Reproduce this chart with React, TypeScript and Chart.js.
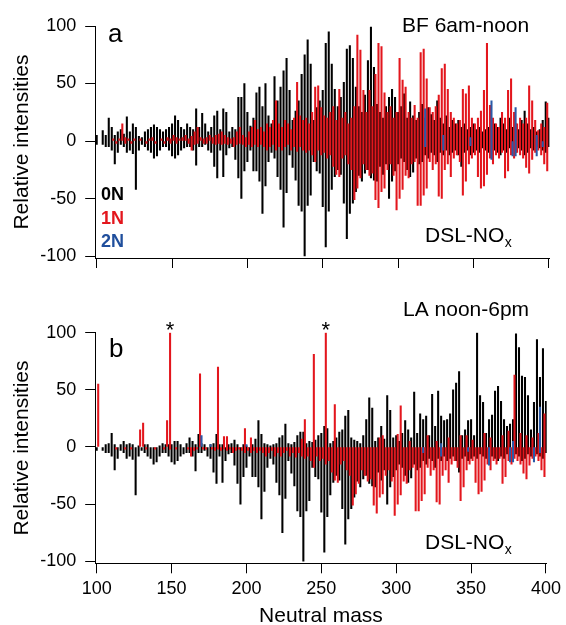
import React, { useEffect, useRef } from "react";
import { Chart, registerables } from "chart.js";

Chart.register(...registerables);

// ---------- DATA ----------
// Even nominal masses (0N species): 100, 102, ... 400
const evenStart = 100;
// Odd nominal masses (1N species): 101, 103, ... 399
const oddStart = 101;

// Panel a positive (BF 6am-noon), 0N
const bf0N = [
  5, 0, 9, 5, 20, 12, 5, 8, 10, 6,
  21, 8, 15, 12, 4, 3, 8, 10, 12, 14,
  12, 10, 8, 10, 12, 15, 22, 18, 12, 10,
  15, 12, 10, 28, 12, 24, 15, 8, 12, 22,
  26, 10, 28, 25, 8, 12, 10, 38, 38, 50,
  25, 13, 20, 42, 47, 30, 50, 22, 15, 56,
  35, 47, 61, 72, 44, 18, 26, 35, 58, 75,
  88, 67, 18, 29, 35, 44, 85, 95, 67, 45,
  30, 38, 51, 80, 83, 72, 47, 30, 25, 40,
  70, 99, 64, 32, 25, 20, 30, 38, 45, 38,
  25, 30, 41, 20, 34, 22, 18, 25, 32, 20,
  29, 23, 18, 35, 20, 15, 22, 12, 18, 15,
  18, 12, 15, 10, 12, 15, 10, 12, 8, 10,
  12, 8, 15, 12, 20, 15, 10, 20, 12, 15,
  10, 18, 26, 15, 10, 12, 8, 10, 18, 34,
  20,
];

// Panel b positive (LA noon-6pm), 0N
const la0N = [
  0, 0, 0, 2, 3, 12, 2, 0, 2, 5,
  2, 3, 2, 0, 1, 0, 2, 2, 0, 0,
  0, 1, 3, 2, 2, 2, 5, 5, 2, 0,
  3, 8, 5, 2, 11, 3, 2, 0, 2, 3,
  11, 2, 2, 0, 2, 3, 6, 2, 0, 2,
  1, 0, 2, 7, 23, 11, 3, 2, 1, 2,
  3, 8, 10, 20, 3, 2, 4, 10, 13, 13,
  3, 5, 4, 6, 10, 12, 18, 16, 3, 5,
  8, 13, 15, 27, 32, 8, 6, 5, 3, 10,
  24, 43, 34, 5, 8, 18, 7, 45, 32, 8,
  10, 5, 12, 23, 15, 8, 48, 12, 29, 24,
  27, 10, 46, 18, 49, 27, 23, 24, 29, 50,
  56, 66, 10, 15, 23, 24, 10, 100, 45, 39,
  12, 24, 28, 49, 53, 40, 24, 18, 20, 24,
  99, 87, 62, 61, 45, 15, 39, 94, 61, 86,
  40,
];

// Negative side (DSL-NOx reference), 0N, shared by both panels
const dsl0N = [
  3, 0, 3, 5, 5, 8, 20, 10, 3, 5,
  10, 8, 11, 42, 8, 3, 5, 8, 10, 15,
  13, 8, 5, 5, 8, 13, 15, 12, 8, 6,
  5, 5, 8, 21, 5, 5, 3, 8, 10, 22,
  32, 8, 31, 12, 6, 5, 16, 32, 50, 26,
  18, 8, 26, 26, 35, 63, 39, 18, 10, 15,
  31, 42, 75, 45, 12, 23, 34, 56, 61, 100,
  56, 47, 18, 26, 28, 57, 92, 61, 42, 31,
  25, 29, 54, 85, 63, 54, 44, 30, 35, 28,
  25, 32, 34, 35, 22, 29, 20, 50, 35, 26,
  20, 15, 18, 25, 31, 27, 15, 20, 18, 12,
  15, 10, 12, 18, 10, 12, 8, 12, 10, 8,
  12, 22, 10, 8, 12, 10, 8, 10, 6, 8,
  10, 6, 8, 10, 12, 8, 10, 6, 8, 10,
  6, 8, 12, 10, 6, 8, 5, 6, 8, 10,
  5,
];

// Panel a positive, 1N (odd masses)
const bf1N = [
  0, 0, 0, 0, 0, 2, 0, 2, 15, 3,
  2, 0, 2, 0, 2, 0, 0, 2, 3, 0,
  0, 2, 0, 3, 2, 5, 3, 2, 3, 5,
  2, 4, 8, 12, 3, 2, 3, 5, 3, 5,
  6, 8, 5, 3, 2, 3, 8, 12, 5, 3,
  8, 12, 18, 10, 12, 8, 15, 12, 18, 35,
  15, 12, 18, 15, 10, 20, 51, 22, 18, 20,
  15, 25, 47, 48, 29, 22, 20, 25, 30, 18,
  45, 20, 25, 15, 20, 30, 92, 79, 44, 25,
  44, 30, 58, 85, 82, 42, 25, 30, 20, 25,
  72, 53, 47, 25, 20, 31, 20, 77, 80, 54,
  29, 25, 30, 40, 63, 67, 45, 25, 20, 15,
  18, 45, 41, 48, 20, 15, 20, 26, 44, 85,
  31, 20, 15, 12, 25, 20, 44, 54, 25, 15,
  20, 15, 20, 48, 35, 18, 9, 15, 12, 33,
];

// Panel b positive, 1N (odd masses)
const la1N = [
  55, 0, 0, 0, 0, 0, 0, 0, 0, 0,
  0, 0, 0, 0, 15, 21, 0, 0, 0, 0,
  0, 0, 0, 23, 100, 0, 0, 0, 0, 0,
  0, 0, 0, 0, 64, 0, 0, 0, 0, 0,
  70, 0, 9, 9, 0, 0, 0, 0, 0, 16,
  0, 8, 0, 0, 0, 0, 0, 0, 0, 0,
  0, 0, 0, 0, 0, 0, 0, 0, 7, 24,
  0, 0, 81, 0, 0, 0, 100, 0, 0, 37,
  0, 0, 0, 0, 0, 0, 0, 0, 0, 0,
  0, 0, 0, 0, 8, 10, 0, 0, 0, 0,
  11, 36, 0, 0, 5, 0, 0, 0, 0, 0,
  10, 0, 0, 5, 0, 0, 0, 8, 0, 0,
  0, 10, 0, 10, 0, 6, 0, 0, 0, 12,
  0, 8, 0, 0, 0, 10, 0, 14, 0, 63,
  0, 12, 0, 10, 0, 8, 0, 12, 0, 29,
];

// Negative side (DSL-NOx), 1N, shared
const dsl1N = [
  0, 0, 0, 0, 0, 0, 2, 0, 0, 2,
  0, 2, 0, 0, 0, 0, 2, 0, 0, 2,
  0, 0, 2, 0, 2, 0, 2, 0, 0, 0,
  2, 8, 3, 2, 0, 2, 2, 0, 2, 3,
  2, 3, 2, 3, 2, 5, 3, 2, 3, 5,
  3, 5, 3, 5, 3, 5, 8, 5, 3, 8,
  5, 8, 5, 3, 8, 5, 9, 5, 8, 10,
  8, 12, 18, 8, 12, 10, 15, 12, 22, 29,
  31, 15, 12, 20, 25, 51, 41, 32, 20, 25,
  30, 28, 51, 58, 44, 41, 25, 20, 30, 60,
  50, 42, 30, 32, 20, 18, 56, 56, 47, 41,
  18, 25, 20, 48, 50, 25, 20, 31, 15, 12,
  18, 47, 35, 20, 15, 12, 31, 41, 39, 29,
  15, 20, 12, 15, 10, 32, 26, 12, 15, 10,
  12, 15, 23, 28, 16, 10, 8, 12, 20, 26,
];

// 2N species (sparse, even masses)
const masses2N = [170, 176, 200, 318, 330, 348, 362, 376, 378, 392, 396];
const bf2N = [0, 0, 0, 28, 5, 3, 35, 0, 29, 5, 0];
const la2N = [10, 2, 2, 0, 3, 0, 0, 0, 5, 0, 35];
const dsl2N = [0, 0, 0, 5, 8, 4, 16, 13, 13, 13, 5];

const yTicks = [-100, -50, 0, 50, 100];
const xTicks = [100, 150, 200, 250, 300, 350, 400];
const starMasses = [149, 253];

// ---------- STYLE ----------
const FONT = '"Liberation Sans", Arial, Helvetica, sans-serif';
const BLACK = "#000000";
const RED = "#e3161d";
const BLUE = "#2a5aa8";
const BLUE_TXT = "#1f4e9c";

type Pt = { x: number; y: [number, number] };

function series(start: number, pos: number[], neg: number[]): Pt[] {
  const out: Pt[] = [];
  pos.forEach((p, i) => {
    const n = neg[i] || 0;
    if (p !== 0 || n !== 0) out.push({ x: start + 2 * i, y: [-n, p] });
  });
  return out;
}

function seriesAt(masses: number[], pos: number[], neg: number[]): Pt[] {
  const out: Pt[] = [];
  masses.forEach((m, i) => {
    if (pos[i] !== 0 || neg[i] !== 0) out.push({ x: m, y: [-neg[i], pos[i]] });
  });
  return out;
}

type Txt = {
  t: string;
  x: number;
  y: number;
  size: number;
  color?: string;
  bold?: boolean;
  align?: CanvasTextAlign;
  dataX?: number;
  sub?: string;
};

function textPlugin(id: string, items: Txt[]) {
  return {
    id,
    afterDraw(chart: any) {
      const ctx: CanvasRenderingContext2D = chart.ctx;
      ctx.save();
      for (const it of items) {
        ctx.font = `${it.bold ? "bold " : ""}${it.size}px ${FONT}`;
        ctx.fillStyle = it.color || BLACK;
        ctx.textAlign = it.align || "left";
        ctx.textBaseline = "alphabetic";
        const x = it.dataX !== undefined ? chart.scales.x.getPixelForValue(it.dataX) : it.x;
        ctx.fillText(it.t, x, it.y);
        if (it.sub) {
          const w = ctx.measureText(it.t).width;
          ctx.font = `${Math.round(it.size * 0.68)}px ${FONT}`;
          ctx.fillText(it.sub, x + w + 0.5, it.y + 5);
        }
      }
      ctx.restore();
    },
  };
}

function makeConfig(opts: {
  pos0: number[];
  pos1: number[];
  pos2: number[];
  yMin: number;
  padTop: number;
  xHeight: number;
  showXLabels: boolean;
  texts: Txt[];
  id: string;
}) {
  const barBase = {
    grouped: false,
    barThickness: 1.4,
    borderWidth: 0,
  };
  return {
    type: "bar" as const,
    data: {
      datasets: [
        { ...barBase, label: "2N", data: seriesAt(masses2N, opts.pos2, dsl2N), backgroundColor: BLUE },
        { ...barBase, label: "1N", data: series(oddStart, opts.pos1, dsl1N), backgroundColor: RED },
        { ...barBase, label: "0N", data: series(evenStart, opts.pos0, dsl0N), backgroundColor: BLACK },
      ],
    },
    options: {
      responsive: false,
      animation: false,
      devicePixelRatio: 1,
      layout: { padding: { top: opts.padTop, right: 16.5, bottom: 0, left: 0 } },
      plugins: { legend: { display: false }, tooltip: { enabled: false } },
      scales: {
        x: {
          type: "linear",
          min: 99,
          max: 400.5,
          offset: false,
          afterBuildTicks: (axis: any) => {
            axis.ticks = xTicks.map((v) => ({ value: v }));
          },
          afterFit: (axis: any) => {
            axis.height = opts.xHeight;
          },
          grid: {
            display: true,
            offset: false,
            drawOnChartArea: false,
            drawTicks: true,
            tickLength: 10,
            color: BLACK,
            lineWidth: 1,
          },
          border: { display: true, color: BLACK, width: 1 },
          ticks: {
            display: opts.showXLabels,
            color: BLACK,
            font: { size: 18, family: FONT },
            padding: 5,
            maxRotation: 0,
          },
          title: {
            display: opts.showXLabels,
            text: "Neutral mass",
            color: BLACK,
            font: { size: 21, family: FONT },
            padding: { top: 0, bottom: -3.4 },
          },
        },
        y: {
          type: "linear",
          min: opts.yMin,
          max: 100,
          afterBuildTicks: (axis: any) => {
            axis.ticks = yTicks.map((v) => ({ value: v }));
          },
          afterFit: (axis: any) => {
            axis.width = 95.2;
          },
          grid: {
            display: true,
            drawOnChartArea: false,
            drawTicks: true,
            tickLength: 10,
            color: BLACK,
            lineWidth: 1,
          },
          border: { display: true, color: BLACK, width: 1 },
          ticks: {
            color: BLACK,
            font: { size: 18, family: FONT },
            padding: 9,
          },
          title: {
            display: true,
            text: "Relative intensities",
            color: BLACK,
            font: { size: 21, family: FONT },
            padding: { top: 10, bottom: 0 },
          },
        },
      },
    },
    plugins: [textPlugin(opts.id, opts.texts)],
  };
}

const textsA: Txt[] = [
  { t: "a", x: 108, y: 42, size: 26 },
  { t: "BF 6am-noon", x: 402, y: 31.7, size: 21 },
  { t: "0N", x: 101, y: 199.5, size: 18, bold: true, color: BLACK },
  { t: "1N", x: 101, y: 224, size: 18, bold: true, color: RED },
  { t: "2N", x: 101, y: 246.5, size: 18, bold: true, color: BLUE_TXT },
  { t: "DSL-NO", x: 425, y: 242.3, size: 21, sub: "x" },
];

const textsB: Txt[] = [
  { t: "b", x: 109, y: 67, size: 26 },
  { t: "LA noon-6pm", x: 403, y: 26, size: 21 },
  { t: "DSL-NO", x: 425, y: 259, size: 21, sub: "x" },
  ...starMasses.map((m) => ({ t: "*", x: 0, y: 46.5, size: 22, align: "center" as CanvasTextAlign, dataX: m })),
];

export default function App() {
  const refA = useRef<HTMLCanvasElement>(null);
  const refB = useRef<HTMLCanvasElement>(null);

  useEffect(() => {
    Chart.defaults.font.family = FONT;
    Chart.defaults.color = BLACK;
    const a = new Chart(
      refA.current as HTMLCanvasElement,
      makeConfig({
        pos0: bf0N,
        pos1: bf1N,
        pos2: bf2N,
        yMin: -101.7,
        padTop: 26,
        xHeight: 32,
        showXLabels: false,
        texts: textsA,
        id: "textsA",
      }) as any
    );
    const b = new Chart(
      refB.current as HTMLCanvasElement,
      makeConfig({
        pos0: la0N,
        pos1: la1N,
        pos2: la2N,
        yMin: -101.8,
        padTop: 42.7,
        xHeight: 61.7,
        showXLabels: true,
        texts: textsB,
        id: "textsB",
      }) as any
    );
    return () => {
      a.destroy();
      b.destroy();
    };
  }, []);

  return (
    <div
      style={{
        position: "absolute",
        left: 0,
        top: 0,
        width: 566,
        height: 625,
        overflow: "hidden",
        background: "#ffffff",
      }}
    >
      <canvas
        ref={refA}
        width={566}
        height={290}
        style={{ position: "absolute", left: 0, top: 0, width: 566, height: 290 }}
      />
      <canvas
        ref={refB}
        width={566}
        height={335}
        style={{ position: "absolute", left: 0, top: 290, width: 566, height: 335 }}
      />
    </div>
  );
}
